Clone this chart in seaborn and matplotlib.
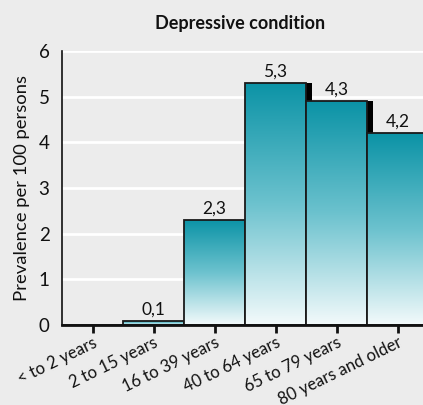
import numpy as np
import pandas as pd
import matplotlib
matplotlib.use("Agg")
import matplotlib.pyplot as plt
from matplotlib.colors import LinearSegmentedColormap
from matplotlib.patches import Rectangle
import seaborn as sns

# data
age_groups = ["< to 2 years", "2 to 15 years", "16 to 39 years",
              "40 to 64 years", "65 to 79 years", "80 years and older"]
prevalence = [0.01, 0.09, 2.3, 5.3, 4.9, 4.2]
value_labels = ["", "0,1", "2,3", "5,3", "4,3", "4,2"]

bg = "#ececec"
sns.set_theme(style="white")
plt.rcParams["font.family"] = ["Lato", "DejaVu Sans"]

df = pd.DataFrame({"age": age_groups, "prev": prevalence})

fig = plt.figure(figsize=(4.23, 4.05), dpi=100, facecolor=bg)
ax = fig.add_axes([62 / 423, 80 / 405, 1 - 62 / 423, 274 / 405], facecolor=bg)

sns.barplot(data=df, x="age", y="prev", ax=ax, width=1.0,
            color="white", edgecolor="#1a1a1a", linewidth=1.3, zorder=3)

cmap = LinearSegmentedColormap.from_list("teal", ["#f3fafb", "#6cc2ce", "#0b93a6"])
grad = np.linspace(0, 1, 256).reshape(-1, 1)

bars = list(ax.patches)
# black drop shadow behind each bar, shifted a little to the right
for p in bars:
    x0, w, h = p.get_x(), p.get_width(), p.get_height()
    ax.add_patch(Rectangle((x0 + 0.1, 0), w, h, facecolor="black",
                           edgecolor="none", zorder=2))
for i, p in enumerate(bars):
    x0, w, h = p.get_x(), p.get_width(), p.get_height()
    im = ax.imshow(grad, extent=(x0, x0 + w, 0, h), origin="lower",
                   cmap=cmap, aspect="auto", zorder=3 + i * 0.1 - 0.05)
    im.set_clip_path(p)
    p.set_facecolor("none")
    p.set_zorder(3 + i * 0.1 + 0.01)
    if value_labels[i]:
        ax.text(x0 + w / 2, h + 0.08, value_labels[i], ha="center", va="bottom",
                fontsize=12.5, color="#111111", zorder=6)

ax.set_xlim(-0.5, -0.5 + 361 / 61)
ax.set_ylim(0, 6)

for y in range(1, 7):
    ax.axhline(y, color="white", lw=2, zorder=1)

for s in ["top", "right"]:
    ax.spines[s].set_visible(False)
ax.spines["left"].set_color("#111111")
ax.spines["left"].set_linewidth(1.2)
ax.spines["bottom"].set_color("#111111")
ax.spines["bottom"].set_linewidth(2)
ax.spines["bottom"].set_zorder(10)

ax.set_yticks(range(0, 7))
ax.tick_params(axis="y", length=0, labelsize=13.5, pad=9, labelcolor="#111111")
ax.tick_params(axis="x", bottom=True, length=6, width=2, color="#111111",
               labelsize=12, labelcolor="#111111", pad=1)
ax.set_xticks(range(len(age_groups)))
ax.set_xticklabels(age_groups, rotation=26, ha="right", rotation_mode="anchor")

ax.set_xlabel("")
ax.set_ylabel("Prevalence per 100 persons", fontsize=13.3, color="#111111", labelpad=6)
fig.text(240 / 423, 1 - 24 / 405, "Depressive condition", ha="center", va="center",
         fontsize=13, fontweight="bold", color="#111111")

fig.savefig("out.png", dpi=100, facecolor=bg)
